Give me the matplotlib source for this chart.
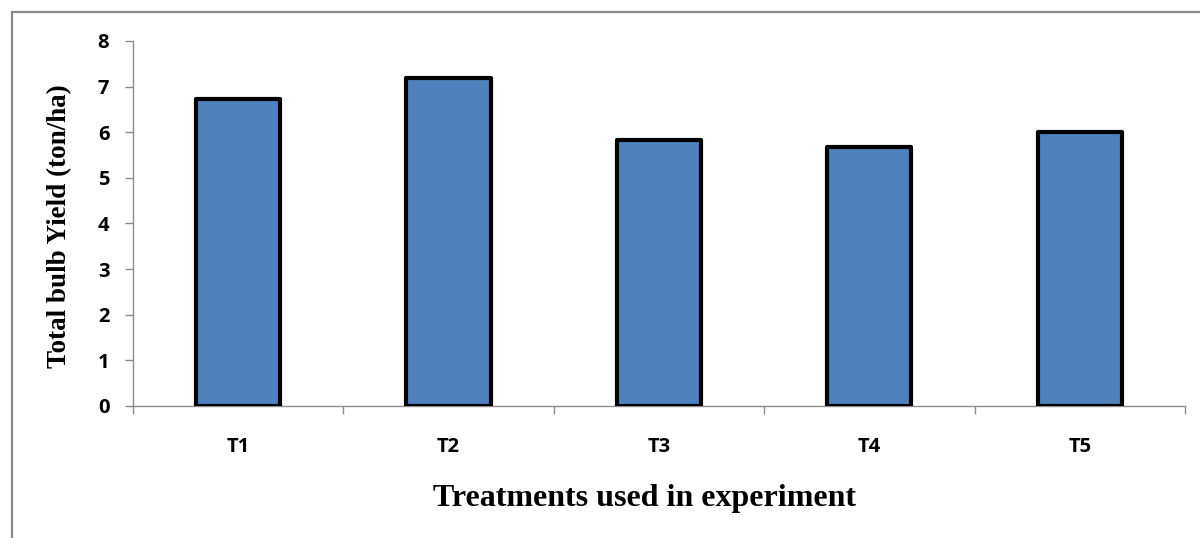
import numpy as np
import matplotlib.pyplot as plt
from matplotlib.patches import Rectangle

# data
treatments = ['T1', 'T2', 'T3', 'T4', 'T5']
yield_ton_ha = [6.73, 7.18, 5.82, 5.68, 6.0]
y_ticks = [0, 1, 2, 3, 4, 5, 6, 7, 8]

fig = plt.figure(figsize=(12, 5.38), dpi=100)
ax = fig.add_axes([0.1108, 0.2454, 0.8767, 0.6784])

x = np.arange(len(treatments))
ax.bar(x, yield_ton_ha, width=0.4, color='#4F81BD', edgecolor='black',
       linewidth=3.0, joinstyle='round', zorder=3)

ax.set_xlim(-0.5, len(treatments) - 0.5)
ax.set_ylim(0, 8)
ax.set_yticks(y_ticks)

# category boundary ticks, labels in the middle
ax.set_xticks(np.arange(-0.5, len(treatments)), labels=[''] * (len(treatments) + 1))
ax.set_xticks(x, labels=treatments, minor=True)
ax.tick_params(axis='x', which='major', length=6, width=1, color='#8c8c8c', direction='out')
ax.tick_params(axis='x', which='minor', length=0, pad=22)
ax.tick_params(axis='y', length=6, width=1, color='#8c8c8c', direction='out', pad=11)

for lab in ax.get_xticklabels(minor=True) + ax.get_yticklabels():
    lab.set_fontfamily('Open Sans')
    lab.set_fontweight('bold')
    lab.set_fontsize(14.5)

for s in ['top', 'right']:
    ax.spines[s].set_visible(False)
for s in ['left', 'bottom']:
    ax.spines[s].set_color('#8c8c8c')
    ax.spines[s].set_linewidth(1)

fig.text(0.05, 0.58, 'Total bulb Yield (ton/ha)', rotation=90, ha='center', va='center',
         fontfamily='Liberation Serif', fontweight='bold', fontsize=19.5)
fig.text(0.537, 0.074, 'Treatments used in experiment', ha='center', va='center',
         fontfamily='Liberation Serif', fontweight='bold', fontsize=23)

# outer chart frame
fig.patches.append(Rectangle((12 / 1200, -0.1), 1.2, 1 - 12 / 538 + 0.1,
                             transform=fig.transFigure, fill=False,
                             edgecolor='#8a8a8a', linewidth=1.6))

fig.savefig('out.png', dpi=100)
